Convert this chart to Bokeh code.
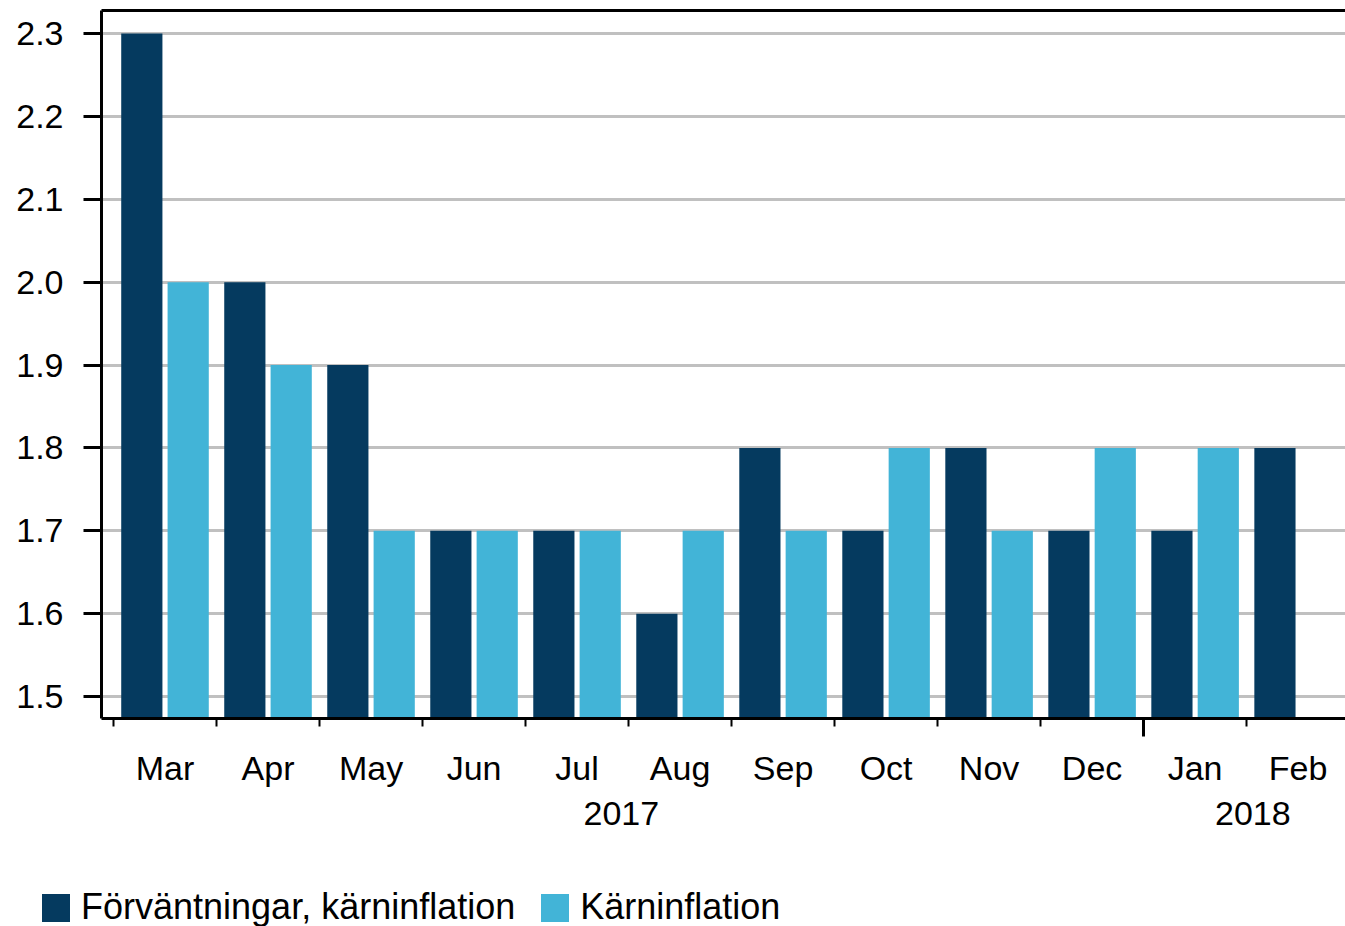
from bokeh.plotting import figure
from bokeh.layouts import column, row
from bokeh.models import (LinearAxis, FixedTicker, Range1d, Legend, LegendItem,
                          ColumnDataSource, PrintfTickFormatter)
from bokeh.embed import file_html
from bokeh.resources import INLINE

months = ["Mar", "Apr", "May", "Jun", "Jul", "Aug", "Sep", "Oct", "Nov", "Dec", "Jan", "Feb"]
forvantningar = [2.3, 2.0, 1.9, 1.7, 1.7, 1.6, 1.8, 1.7, 1.8, 1.7, 1.7, 1.8]
karninflation = [2.0, 1.9, 1.7, 1.7, 1.7, 1.7, 1.7, 1.8, 1.7, 1.8, 1.8, float("nan")]
series_names = ["Förväntningar, kärninflation", "Kärninflation"]
years = ["2017", "2018"]
year_label_pos = [4.93, 11.06]
y_ticks = [1.5, 1.6, 1.7, 1.8, 1.9, 2.0, 2.1, 2.2, 2.3]

DARK = "#053A5F"
LIGHT = "#42B4D7"
FONT = "Liberation Sans"
FS = "34px"
Y_MIN, Y_MAX = 1.4735, 2.3278

idx = list(range(len(months)))
src = ColumnDataSource(dict(
    x1=[i + 0.275 for i in idx],
    x2=[i + 0.725 for i in idx],
    f=forvantningar,
    k=karninflation,
))

p = figure(width=1345, height=860, x_range=Range1d(-0.1165, 11.96),
           y_range=Range1d(Y_MIN, Y_MAX), output_backend="svg",
           toolbar_location=None, x_axis_location=None,
           min_border_left=101, min_border_right=0, min_border_top=10,
           min_border_bottom=142)
p.outline_line_color = None
p.xgrid.visible = False
p.ygrid.grid_line_color = "#C0C0C0"
p.ygrid.grid_line_width = 3
p.ygrid.ticker = FixedTicker(ticks=y_ticks)

r1 = p.vbar(x="x1", top="f", bottom=Y_MIN, width=0.4, source=src,
            fill_color=DARK, line_color=None)
r2 = p.vbar(x="x2", top="k", bottom=Y_MIN, width=0.4, source=src,
            fill_color=LIGHT, line_color=None)

ya = p.yaxis[0]
ya.ticker = FixedTicker(ticks=y_ticks)
ya.formatter = PrintfTickFormatter(format="%.1f")
ya.major_tick_out = 18
ya.major_tick_in = 0
ya.minor_tick_line_color = None
ya.axis_line_width = 3
ya.major_tick_line_width = 3
ya.major_label_standoff = 20
ya.major_label_text_font = FONT
ya.major_label_text_font_size = FS
ya.major_label_text_color = "black"

# top border line
top = LinearAxis(ticker=FixedTicker(ticks=[]), major_tick_out=0, major_tick_in=0,
                 minor_tick_out=0, minor_tick_in=0, major_label_text_font_size="0px",
                 major_label_standoff=0, axis_line_width=3)
p.add_layout(top, "above")

# bottom axis with boundary ticks
axA = LinearAxis(ticker=FixedTicker(ticks=[10], minor_ticks=[i for i in idx if i != 10]),
                 major_tick_out=18, major_tick_in=0, minor_tick_out=8, minor_tick_in=0,
                 major_label_text_font_size="0px", major_label_standoff=0,
                 axis_line_width=3, major_tick_line_width=3, minor_tick_line_width=2,
                 minor_tick_line_color="black")
p.add_layout(axA, "below")

axB = LinearAxis(ticker=FixedTicker(ticks=[i + 0.5 for i in idx]),
                 major_label_overrides={i + 0.5: m for i, m in zip(idx, months)},
                 major_tick_line_color=None, minor_tick_line_color=None,
                 axis_line_color=None, major_label_text_font=FONT,
                 major_label_text_font_size=FS, major_label_standoff=6,
                 major_label_text_color="black")
p.add_layout(axB, "below")

axC = LinearAxis(ticker=FixedTicker(ticks=year_label_pos),
                 major_label_overrides={pos: y for pos, y in zip(year_label_pos, years)},
                 major_tick_line_color=None, minor_tick_line_color=None,
                 axis_line_color=None, major_label_text_font=FONT,
                 major_label_text_font_size=FS, major_label_standoff=6,
                 major_label_text_color="black")
p.add_layout(axC, "below")

# legend strip (separate figure so it is not clipped by the plot frame)
lf = figure(width=1345, height=66, x_range=Range1d(100, 101), y_range=Range1d(100, 101),
            output_backend="svg", toolbar_location=None,
            x_axis_location=None, y_axis_location=None,
            min_border_left=0, min_border_right=0, min_border_top=0, min_border_bottom=0)
lf.outline_line_color = None
lf.xgrid.visible = False
lf.ygrid.visible = False
l1 = lf.vbar(x="x1", top="f", bottom=Y_MIN, width=0.4, source=src,
             fill_color=DARK, line_color=None)
l2 = lf.vbar(x="x2", top="k", bottom=Y_MIN, width=0.4, source=src,
             fill_color=LIGHT, line_color=None)
legend = Legend(items=[LegendItem(label=series_names[0], renderers=[l1]),
                       LegendItem(label=series_names[1], renderers=[l2])],
                orientation="horizontal", location=(38, -2),
                glyph_width=35, glyph_height=35, label_standoff=8, spacing=22,
                padding=0, margin=0, border_line_color=None,
                background_fill_alpha=0, label_text_font=FONT,
                label_text_font_size="36px", label_text_color="black", label_height=35)
lf.add_layout(legend, "center")

layout = column(row(p), row(lf), spacing=0)
open("out.html", "w").write(file_html(layout, INLINE))
